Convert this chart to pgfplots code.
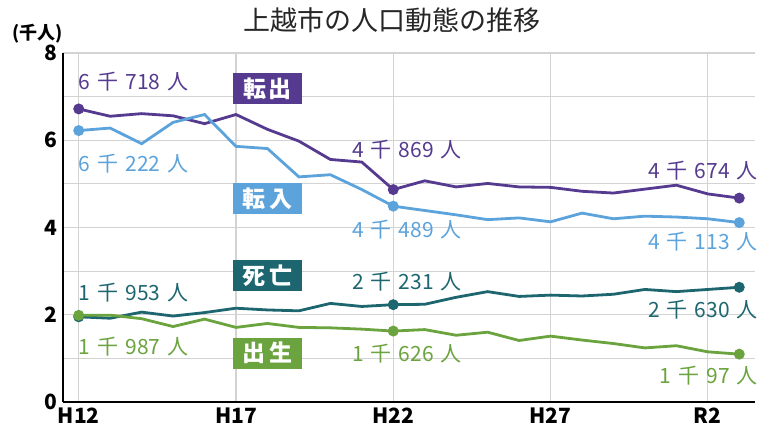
\documentclass[border=0pt]{standalone}
\usepackage{pgfplots}
\pgfplotsset{compat=1.18}
\usepackage{fontspec}
\setmainfont{Noto Sans CJK JP}
\definecolor{cOut}{HTML}{553A8F}
\definecolor{cIn}{HTML}{5CA3DC}
\definecolor{cDeath}{HTML}{1D6670}
\definecolor{cBirth}{HTML}{6BA33F}
\definecolor{cGrid}{HTML}{D3D3D3}
\newcommand{\gsp}{\hspace{0.33em}}
\begin{document}
\begin{tikzpicture}
\path[use as bounding box] (-63pt,-30pt) rectangle (711pt,402pt);
\begin{axis}[
  at={(0,0)}, anchor=south west,
  scale only axis, width=692pt, height=349pt,
  xmin=-0.5, xmax=21.5, ymin=0, ymax=8,
  axis x line*=bottom, axis y line*=left,
  axis line style={-, black, line width=1.3pt},
  xtick={0,5,10,15,20}, xticklabels={H12,H17,H22,H27,R2},
  ytick={0,1,2,3,4,5,6,7,8}, yticklabels={0,,2,,4,,6,,8},
  major tick length=0pt,
  tick label style={font=\fontsize{21}{21}\selectfont\bfseries},
  /pgf/number format/assume math mode=true,
  xticklabel style={yshift=-2pt},
  yticklabel style={xshift=-2pt},
  grid=major, grid style={cGrid, line width=1.2pt},
  clip=false,
  every axis plot/.append style={line width=2.8pt, mark=*, mark size=4pt, mark indices={1,11,22}},
]
\addplot[cOut, mark options={cOut}] coordinates {
(0,6.718)(1,6.55)(2,6.61)(3,6.56)(4,6.38)(5,6.59)(6,6.25)(7,5.98)(8,5.56)(9,5.50)(10,4.869)
(11,5.07)(12,4.93)(13,5.01)(14,4.93)(15,4.92)(16,4.83)(17,4.79)(18,4.88)(19,4.97)(20,4.77)(21,4.674)};
\addplot[cIn, mark options={cIn}] coordinates {
(0,6.222)(1,6.28)(2,5.92)(3,6.41)(4,6.59)(5,5.86)(6,5.81)(7,5.16)(8,5.21)(9,4.87)(10,4.489)
(11,4.39)(12,4.29)(13,4.18)(14,4.22)(15,4.13)(16,4.33)(17,4.20)(18,4.26)(19,4.24)(20,4.20)(21,4.113)};
\addplot[cDeath, mark options={cDeath}] coordinates {
(0,1.953)(1,1.92)(2,2.06)(3,1.97)(4,2.05)(5,2.15)(6,2.11)(7,2.09)(8,2.26)(9,2.19)(10,2.231)
(11,2.24)(12,2.40)(13,2.53)(14,2.42)(15,2.45)(16,2.43)(17,2.47)(18,2.58)(19,2.53)(20,2.58)(21,2.630)};
\addplot[cBirth, mark options={cBirth}] coordinates {
(0,1.987)(1,1.99)(2,1.91)(3,1.73)(4,1.90)(5,1.71)(6,1.80)(7,1.71)(8,1.70)(9,1.67)(10,1.626)
(11,1.66)(12,1.53)(13,1.60)(14,1.41)(15,1.51)(16,1.42)(17,1.34)(18,1.24)(19,1.29)(20,1.15)(21,1.097)};

% title and unit
\node[font=\fontsize{27}{27}\selectfont, text=black!85] at (rel axis cs:0.475,1.095) {上越市の人口動態の推移};
\node[font=\fontsize{18}{18}\selectfont\bfseries] at (rel axis cs:-0.037,1.055) {(千人)};

% category boxes
\tikzset{catbox/.style={text=white, font=\fontsize{23}{23}\selectfont\bfseries, minimum width=69pt, minimum height=31pt, inner sep=0pt}}
\node[catbox, fill=cOut] at (axis cs:6,7.18) {転\hspace{2pt}出};
\node[catbox, fill=cIn] at (axis cs:6,4.66) {転\hspace{4pt}入};
\node[catbox, fill=cDeath] at (axis cs:6,2.89) {死\hspace{4pt}亡};
\node[catbox, fill=cBirth] at (axis cs:6,1.12) {出\hspace{4pt}生};

% value labels
\tikzset{vlab/.style={font=\fontsize{21}{21}\selectfont, inner sep=0pt}}
\node[vlab, text=cOut, anchor=west] at (axis cs:0.0,7.34) {6\gsp 千\gsp 718\gsp 人};
\node[vlab, text=cIn, anchor=west] at (axis cs:0.0,5.46) {6\gsp 千\gsp 222\gsp 人};
\node[vlab, text=cOut, anchor=west] at (axis cs:8.69,5.78) {4\gsp 千\gsp 869\gsp 人};
\node[vlab, text=cIn, anchor=west] at (axis cs:8.69,3.95) {4\gsp 千\gsp 489\gsp 人};
\node[vlab, text=cOut, anchor=east] at (axis cs:21.59,5.30) {4\gsp 千\gsp 674\gsp 人};
\node[vlab, text=cIn, anchor=east] at (axis cs:21.59,3.67) {4\gsp 千\gsp 113\gsp 人};
\node[vlab, text=cDeath, anchor=west] at (axis cs:0.0,2.50) {1\gsp 千\gsp 953\gsp 人};
\node[vlab, text=cBirth, anchor=west] at (axis cs:0.0,1.28) {1\gsp 千\gsp 987\gsp 人};
\node[vlab, text=cDeath, anchor=west] at (axis cs:8.69,2.75) {2\gsp 千\gsp 231\gsp 人};
\node[vlab, text=cBirth, anchor=west] at (axis cs:8.69,1.10) {1\gsp 千\gsp 626\gsp 人};
\node[vlab, text=cDeath, anchor=east] at (axis cs:21.59,2.11) {2\gsp 千\gsp 630\gsp 人};
\node[vlab, text=cBirth, anchor=east] at (axis cs:21.59,0.60) {1\gsp 千\gsp 97\gsp 人};
\end{axis}
\end{tikzpicture}
\end{document}
